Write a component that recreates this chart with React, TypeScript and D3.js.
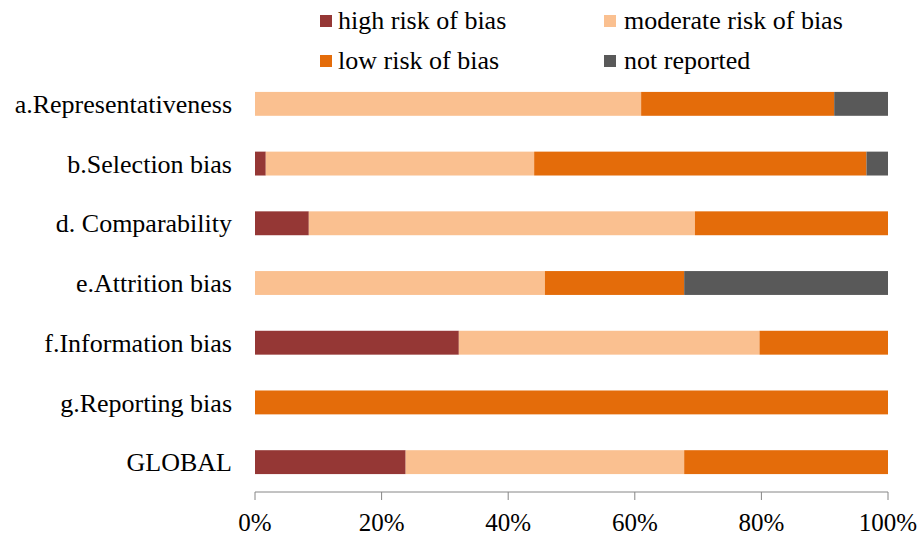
import React from "react";
import * as d3 from "d3";

const categories = [
  "a.Representativeness",
  "b.Selection bias",
  "d. Comparability",
  "e.Attrition bias",
  "f.Information bias",
  "g.Reporting bias",
  "GLOBAL",
];
const seriesNames = ["high risk of bias", "moderate risk of bias", "low risk of bias", "not reported"];
const highRisk = [0, 1.7, 8.5, 0, 32.2, 0, 23.8];
const moderateRisk = [61.0, 42.4, 61.0, 45.8, 47.5, 0, 44.0];
const lowRisk = [30.5, 52.5, 30.5, 22.0, 20.3, 100, 32.2];
const notReported = [8.5, 3.4, 0, 32.2, 0, 0, 0];
const tickValues = [0, 0.2, 0.4, 0.6, 0.8, 1];
const colors = ["#953735", "#FAC090", "#E46C0A", "#595959"];

const W = 920;
const H = 538;
const FONT = "Liberation Serif, Times New Roman, Times, serif";

export default function App() {
  const x = d3.scaleLinear().domain([0, 1]).range([255, 888]);
  const y = d3.scaleBand<string>().domain(categories).range([74, 492]).paddingInner(0.6).paddingOuter(0.3);

  const rows = categories.map((c, i) => {
    const vals = [highRisk[i], moderateRisk[i], lowRisk[i], notReported[i]];
    const total = d3.sum(vals);
    return { c, vals: vals.map((v) => v / total) };
  });
  const stack = d3.stack<any>().keys(["0", "1", "2", "3"]).value((d, k) => d.vals[+k]);
  const layers = stack(rows as any);

  const legendPos = [
    { sx: 320, tx: 338, y: 21 },
    { sx: 604, tx: 624, y: 21 },
    { sx: 320, tx: 338, y: 61 },
    { sx: 604, tx: 624, y: 61 },
  ];

  const axisY = 492;

  return (
    <svg width={W} height={H} style={{ position: "absolute", left: 0, top: 0, background: "#fff", fontFamily: FONT }}>
      {layers.map((layer, li) => (
        <g key={li} fill={colors[li]}>
          {layer.map((d, i) => {
            const w = x(d[1]) - x(d[0]);
            if (w <= 0) return null;
            return (
              <rect
                key={i}
                x={x(d[0])}
                y={y(categories[i])!}
                width={w}
                height={y.bandwidth()}
              />
            );
          })}
        </g>
      ))}
      {categories.map((c) => (
        <text
          key={c}
          x={232}
          y={y(c)! + y.bandwidth() / 2}
          dy="0.35em"
          textAnchor="end"
          style={{ fontFamily: FONT }}
          fontSize={26}
          fill="#000"
        >
          {c}
        </text>
      ))}
      <g>
        <line x1={x(0)} x2={x(1)} y1={axisY} y2={axisY} stroke="#868686" strokeWidth={1} />
        {tickValues.map((t) => (
          <g key={t}>
            <line x1={x(t)} x2={x(t)} y1={axisY} y2={axisY + 8} stroke="#868686" strokeWidth={1} />
            <text
              x={x(t)}
              y={531}
              textAnchor="middle"
              style={{ fontFamily: FONT }}
              fontSize={25}
              fill="#000"
            >
              {d3.format(".0%")(t)}
            </text>
          </g>
        ))}
      </g>
      {seriesNames.map((s, i) => (
        <g key={s}>
          <rect x={legendPos[i].sx} y={legendPos[i].y - 6} width={12} height={12} fill={colors[i]} />
          <text
            x={legendPos[i].tx}
            y={legendPos[i].y}
            dy="0.32em"
            style={{ fontFamily: FONT }}
            fontSize={26}
            fill="#000"
          >
            {s}
          </text>
        </g>
      ))}
    </svg>
  );
}
